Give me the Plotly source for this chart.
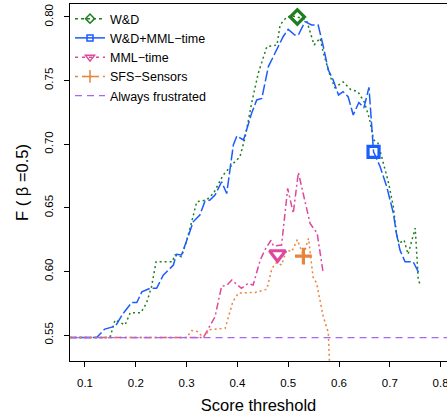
import plotly.graph_objects as go

# ---------------- data ----------------
wd_x = [0.06, 0.143, 0.150, 0.159, 0.179, 0.189, 0.210, 0.221, 0.231, 0.240, 0.272, 0.277,
        0.290, 0.300, 0.310, 0.320, 0.339, 0.353, 0.372, 0.392, 0.405, 0.415, 0.428, 0.441,
        0.458, 0.478, 0.484, 0.497, 0.507, 0.518, 0.536, 0.546, 0.551, 0.563, 0.569, 0.584,
        0.592, 0.608, 0.623, 0.637, 0.650, 0.660, 0.668, 0.677, 0.687, 0.697, 0.707, 0.713,
        0.718, 0.728, 0.736, 0.743, 0.750, 0.753, 0.756, 0.759]
wd_y = [0.548, 0.548, 0.549, 0.5618, 0.558, 0.5675, 0.5676, 0.575, 0.588, 0.6076, 0.6076, 0.613,
        0.6116, 0.624, 0.639, 0.6548, 0.6561, 0.6614, 0.6758, 0.685, 0.690, 0.705, 0.7322, 0.7557,
        0.7767, 0.778, 0.7937, 0.800, 0.8008, 0.800, 0.7976, 0.7845, 0.778, 0.7833, 0.772, 0.752,
        0.7445, 0.749, 0.743, 0.7413, 0.733, 0.720, 0.7035, 0.7007, 0.685, 0.6705, 0.6509, 0.630,
        0.622, 0.6247, 0.6135, 0.6247, 0.634, 0.6142, 0.5933, 0.5906]

wdm_x = [0.06, 0.123, 0.139, 0.156, 0.160, 0.175, 0.192, 0.202, 0.212, 0.228, 0.241, 0.254,
         0.274, 0.280, 0.290, 0.303, 0.313, 0.326, 0.336, 0.346, 0.356, 0.369, 0.379, 0.392,
         0.399, 0.412, 0.428, 0.438, 0.448, 0.461, 0.474, 0.490, 0.500, 0.513, 0.520, 0.533,
         0.546, 0.559, 0.569, 0.579, 0.589, 0.599, 0.608, 0.618, 0.628, 0.639, 0.649, 0.659,
         0.668, 0.681, 0.694, 0.707, 0.713, 0.720, 0.730, 0.746, 0.759]
wdm_y = [0.548, 0.548, 0.5547, 0.5565, 0.557, 0.567, 0.5755, 0.5755, 0.584, 0.5867, 0.5867, 0.597,
         0.605, 0.6135, 0.613, 0.6273, 0.639, 0.6443, 0.655, 0.6561, 0.660, 0.6705, 0.6612, 0.6994,
         0.7065, 0.7033, 0.7243, 0.7348, 0.736, 0.761, 0.7714, 0.7845, 0.7903, 0.7858, 0.7858, 0.7963,
         0.7937, 0.7937, 0.777, 0.7583, 0.750, 0.7387, 0.7413, 0.7373, 0.723, 0.7328, 0.7285, 0.7447,
         0.6941, 0.6823, 0.6666, 0.6457, 0.630, 0.6168, 0.6076, 0.6076, 0.5975]

mml_x = [0.06, 0.333, 0.356, 0.369, 0.379, 0.389, 0.408, 0.421, 0.431, 0.445, 0.454, 0.466,
         0.471, 0.487, 0.499, 0.510, 0.520, 0.543, 0.557, 0.569]
mml_y = [0.548, 0.548, 0.5644, 0.5885, 0.589, 0.5932, 0.5867, 0.5906, 0.5893, 0.609, 0.6168, 0.6245,
         0.620, 0.6208, 0.6653, 0.6457, 0.6778, 0.6378, 0.630, 0.5985]

sfs_x = [0.06, 0.300, 0.310, 0.321, 0.333, 0.345, 0.376, 0.391, 0.402, 0.435, 0.458, 0.468,
         0.477, 0.487, 0.497, 0.507, 0.518, 0.530, 0.540, 0.549, 0.556, 0.569, 0.579, 0.582]
sfs_y = [0.548, 0.548, 0.5535, 0.5528, 0.548, 0.5542, 0.5553, 0.5762, 0.583, 0.5835, 0.586, 0.6024,
         0.607, 0.605, 0.617, 0.6155, 0.625, 0.6125, 0.626, 0.5955, 0.5906, 0.5644, 0.552, 0.52]

always_x = [0.05, 0.85]
always_y = [0.548, 0.548]

# highlighted (best) points per model
best_x = {"W&D": 0.518, "W&D+MML−time": 0.668, "MML−time": 0.479, "SFS−Sensors": 0.530}
best_y = {"W&D": 0.800, "W&D+MML−time": 0.694, "MML−time": 0.6135, "SFS−Sensors": 0.612}

x_ticks = [0.1, 0.2, 0.3, 0.4, 0.5, 0.6, 0.7, 0.8]
x_ticktext = ["0.1", "0.2", "0.3", "0.4", "0.5", "0.6", "0.7", "0.8"]
y_ticks = [0.55, 0.60, 0.65, 0.70, 0.75, 0.80]
y_ticktext = ["0.55", "0.60", "0.65", "0.70", "0.75", "0.80"]

# ---------------- styles ----------------
# name, x, y, colour, dash, big symbol, big size, legend dash, legend size
series = [
    ("W&D", wd_x, wd_y, "#1f7f1f", "2px,3px", "diamond-open", 11, "3px,3px", 7),
    ("W&D+MML−time", wdm_x, wdm_y, "#1a5cff", "11px,3px", "square-open", 11, "solid", 6),
    ("MML−time", mml_x, mml_y, "#e0489e", "2px,3px,7px,3px", "triangle-down-open", 14, "3px,4px", 8),
    ("SFS−Sensors", sfs_x, sfs_y, "#e8843c", "2px,3px", "cross-thin-open", 12, "3px,4px", 9),
]
purple = "#a567f2"
FONT = "Liberation Sans, Arial, Helvetica, sans-serif"

fig = go.Figure()

# curves
for name, xs, ys, col, dash, sym, msz, ldash, lsz in series:
    fig.add_trace(go.Scatter(x=xs, y=ys, mode="lines", name=name, showlegend=False,
                             line=dict(color=col, width=1.5, dash=dash), hoverinfo="skip"))
fig.add_trace(go.Scatter(x=always_x, y=always_y, mode="lines", name="Always frustrated",
                         showlegend=False, line=dict(color=purple, width=1.3, dash="7px,5px")))

# highlighted markers
for name, xs, ys, col, dash, sym, msz, ldash, lsz in series:
    fig.add_trace(go.Scatter(x=[best_x[name]], y=[best_y[name]], mode="markers", showlegend=False,
                             marker=dict(symbol=sym, size=msz, color=col,
                                         line=dict(color=col, width=3.2))))

# legend entries
for name, xs, ys, col, dash, sym, msz, ldash, lsz in series:
    fig.add_trace(go.Scatter(x=[None], y=[None], mode="lines+markers", name=name,
                             line=dict(color=col, width=1.5, dash=ldash),
                             marker=dict(symbol=sym, size=lsz, color=col,
                                         line=dict(color=col, width=1.5))))
fig.add_trace(go.Scatter(x=[None], y=[None], mode="lines", name="Always frustrated",
                         line=dict(color=purple, width=1.3, dash="7px,5px")))

fig.update_layout(
    width=447, height=415,
    margin=dict(l=70, r=0, t=4, b=54),
    paper_bgcolor="white", plot_bgcolor="white",
    font=dict(family=FONT, color="black", size=12),
    legend=dict(x=0.0, y=1.0, xanchor="left", yanchor="top", bgcolor="rgba(0,0,0,0)",
                borderwidth=0, font=dict(size=12.5, family=FONT), itemwidth=30,
                tracegroupgap=0),
    xaxis=dict(range=[0.0705, 0.8126], tickvals=x_ticks, ticktext=x_ticktext,
               showgrid=False, zeroline=False, showline=True, mirror=True,
               linecolor="black", linewidth=1, ticks="outside", ticklen=5, tickwidth=1,
               tickcolor="black", tickfont=dict(size=11.5), ticklabelstandoff=6,
               ticklabeloverflow="allow",
               title=dict(text="Score threshold", font=dict(size=16.5), standoff=11),
               automargin=False),
    yaxis=dict(range=[0.5296, 0.8102], tickvals=y_ticks, ticktext=y_ticktext,
               showgrid=False, zeroline=False, showline=True, mirror=False,
               linecolor="black", linewidth=1, ticks="outside", ticklen=5, tickwidth=1,
               tickcolor="black", tickangle=-90, tickfont=dict(size=11.5), ticklabelstandoff=6,
               title=dict(text="F ( β =0.5)", font=dict(size=16.5), standoff=10),
               automargin=False),
)

fig.write_html("out.html")
